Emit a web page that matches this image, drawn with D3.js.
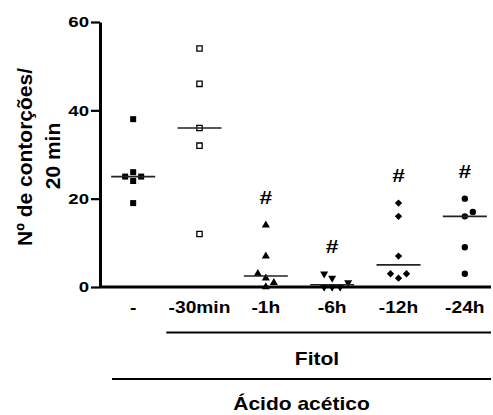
<!DOCTYPE html>
<meta charset="utf-8">
<head>
  <title>Fitol - contorções</title>
</head>
<style>
    body {
        margin: 0;
        background-color: #ffffff;
    }

    svg text {
        font-family: "Liberation Sans", Arial, Helvetica, sans-serif;
        font-weight: bold;
        fill: #000;
    }

    .median {
        stroke: #222;
        stroke-width: 1.6px;
    }
</style>
<body>
    <svg id="chart" width="493" height="415"></svg>

    <script src="https://cdn.jsdelivr.net/npm/d3@7"></script>

    <script>
        // groups (x categories)
        var categories = ["-", "-30min", "-1h", "-6h", "-12h", "-24h"];

        // individual animals, per group (writhings / 20 min)
        var controlVals = [38, 26, 25, 25, 24, 19];
        var min30Vals   = [54, 46, 36, 32, 12];
        var h1Vals      = [14, 7, 3, 2, 1, 0];
        var h6Vals      = [3, 2, 0, 0, 0, 1];
        var h12Vals     = [19, 16, 7, 3, 3, 2];
        var h24Vals     = [20, 17, 16, 9, 3];

        var groupVals = [controlVals, min30Vals, h1Vals, h6Vals, h12Vals, h24Vals];
        var signif = ["", "", "#", "#", "#", "#"];
        var yTicks = [0, 20, 40, 60];

        var stretch = 1.2;   // the original figure is widened a bit

        var svg = d3.select("#chart");

        var x = d3.scaleBand()
            .domain(categories)
            .range([100, 498]);

        var y = d3.scaleLinear()
            .domain([0, 60])
            .range([287, 22]);

        var symbols = [
            { type: d3.symbolSquare, size: 36, fill: "#000", rot: 0 },
            { type: d3.symbolSquare, size: 28, fill: "#fff", rot: 0 },
            { type: d3.symbolTriangle, size: 28, fill: "#000", rot: 0 },
            { type: d3.symbolTriangle, size: 28, fill: "#000", rot: 180 },
            { type: d3.symbolSquare, size: 27, fill: "#000", rot: 45 },
            { type: d3.symbolCircle, size: 32, fill: "#000", rot: 0 }
        ];

        function stretchedText(g, tx, ty, str, size) {
            return g.append("text")
                .attr("transform", "translate(" + tx + "," + ty + ") scale(" + stretch + ",1)")
                .attr("text-anchor", "middle")
                .style("font-size", size + "px")
                .text(str);
        }

        // spread points with (nearly) equal values sideways, like a column scatter
        function spread(vals) {
            var placed = [];
            var lastSide = -1;
            var step = 8;
            var order = vals.map(function(v, i) { return i; })
                .sort(function(a, b) { return vals[a] - vals[b]; });
            var out = [];
            order.forEach(function(i) {
                var py = y(vals[i]);
                var s = -lastSide;
                var cands = [0];
                for (var k = 1; k < 5; k++) { cands.push(s * k * step, -s * k * step); }
                var off = 0;
                for (var c = 0; c < cands.length; c++) {
                    var hit = placed.some(function(p) {
                        return Math.abs(p.dx - cands[c]) < 7 && Math.abs(p.py - py) < 8;
                    });
                    if (!hit) { off = cands[c]; break; }
                }
                if (off !== 0) lastSide = off > 0 ? 1 : -1;
                placed.push({ dx: off, py: py });
                out.push({ v: vals[i], dx: off });
            });
            return out;
        }

        // y axis
        var yAxis = svg.append("g")
            .attr("transform", "translate(100,0)")
            .call(d3.axisLeft(y).tickValues(yTicks).tickSize(9).tickSizeOuter(0).tickPadding(2));

        yAxis.select(".domain").attr("stroke", "#000").attr("stroke-width", 3);
        yAxis.selectAll(".tick line").attr("stroke", "#000").attr("stroke-width", 2.2);
        yAxis.selectAll(".tick text")
            .attr("x", -11 / stretch)
            .attr("transform", "scale(" + stretch + ",1)")
            .style("font-size", "15.5px")
            .style("font-family", "'Liberation Sans', Arial, sans-serif")
            .style("font-weight", "bold");

        // x axis baseline
        svg.append("line")
            .attr("x1", 100).attr("x2", 491)
            .attr("y1", y(0)).attr("y2", y(0))
            .attr("stroke", "#000")
            .attr("stroke-width", 3);

        // points, medians, markers
        categories.forEach(function(cat, gi) {
            var cx = x(cat) + x.bandwidth() / 2;
            var vals = groupVals[gi];
            var sym = symbols[gi];
            var g = svg.append("g");

            g.selectAll("path.pt")
                .data(spread(vals))
                .enter()
                .append("path")
                .attr("class", "pt")
                .attr("d", d3.symbol().type(sym.type).size(sym.size))
                .attr("transform", function(d) {
                    return "translate(" + (cx + d.dx) + "," + y(d.v) + ") rotate(" + sym.rot + ")";
                })
                .attr("fill", sym.fill)
                .attr("stroke", "#000")
                .attr("stroke-width", sym.fill === "#fff" ? 1.3 : 0);

            var med = d3.median(vals);
            g.append("line")
                .attr("class", "median")
                .attr("x1", cx - 22).attr("x2", cx + 22)
                .attr("y1", y(med)).attr("y2", y(med));

            if (signif[gi]) {
                stretchedText(g, cx, y(d3.max(vals)) - 21, signif[gi], 19);
            }

            stretchedText(svg, cx, 313, cat, 16);
        });

        // group brackets
        svg.append("line")
            .attr("x1", x(categories[1])).attr("x2", 491)
            .attr("y1", 332.5).attr("y2", 332.5)
            .attr("stroke", "#000").attr("stroke-width", 2);
        stretchedText(svg, 317, 364.5, "Fitol", 17.5);

        svg.append("line")
            .attr("x1", x(categories[0]) + 12).attr("x2", 491)
            .attr("y1", 379).attr("y2", 379)
            .attr("stroke", "#000").attr("stroke-width", 2);
        stretchedText(svg, 301.5, 410, "Ácido acético", 17.5);

        // y title
        svg.append("text")
            .attr("transform", "translate(31.5,157) rotate(-90)")
            .attr("text-anchor", "middle")
            .style("font-size", "21px")
            .text("Nº de contorções/");
        svg.append("text")
            .attr("transform", "translate(60,156) rotate(-90)")
            .attr("text-anchor", "middle")
            .style("font-size", "21px")
            .text("20 min");
    </script>
</body>
